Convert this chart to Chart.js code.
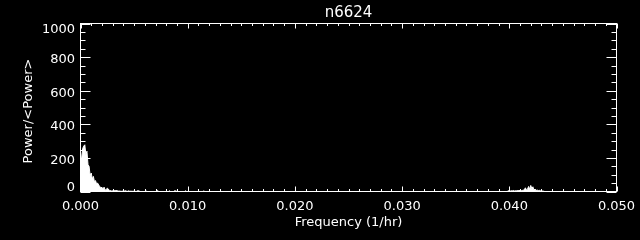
<!DOCTYPE html>
<html>
<head>
<meta charset="utf-8">
<title>n6624</title>
<script src="https://cdn.jsdelivr.net/npm/chart.js@4.4.1/dist/chart.umd.min.js"></script>
<style>
    body { margin: 0; background: #000000; }
    #myChart { display: block; }
</style>
</head>
<body>
<canvas id="myChart" width="640" height="240"></canvas>
<script>
const chartTitle = 'n6624';
const xTitle = 'Frequency (1/hr)';
const yTitle = 'Power/<Power>';

// frequency (1/hr) and normalised power
const freq = [
    0.0000, 0.0001, 0.0002, 0.0003, 0.0004, 0.0005, 0.0006, 0.0007, 0.0008, 0.0009,
    0.0010, 0.0011, 0.0012, 0.0013, 0.0014, 0.0015, 0.0016, 0.0017, 0.0018, 0.0019,
    0.0020, 0.0021, 0.0022, 0.0023, 0.0024, 0.0025, 0.0026, 0.0027, 0.0028, 0.0029,
    0.0030, 0.0031, 0.0032, 0.0033, 0.0034, 0.0035, 0.0036, 0.0037, 0.0038, 0.0039,
    0.0040, 0.0041, 0.0042, 0.0043, 0.0044, 0.0045, 0.0046, 0.0047, 0.0048, 0.0049,
    0.0050, 0.0051, 0.0052, 0.0053, 0.0054, 0.0055, 0.0056, 0.0060, 0.0061, 0.0062,
    0.0071, 0.0072, 0.0073, 0.0082, 0.0083, 0.0084, 0.0087, 0.0088, 0.0089, 0.0090,
    0.0097, 0.0098, 0.0099, 0.0114, 0.0115, 0.0116, 0.0398,
    0.0399, 0.0400, 0.0401, 0.0402, 0.0403, 0.0404, 0.0405, 0.0406, 0.0407, 0.0408,
    0.0409, 0.0410, 0.0411, 0.0412, 0.0413, 0.0414, 0.0415, 0.0416, 0.0417, 0.0418,
    0.0419, 0.0420, 0.0421, 0.0422, 0.0423, 0.0424, 0.0425, 0.0426, 0.0427, 0.0428,
    0.0429, 0.0430, 0.0431, 0.0432, 0.0433, 0.0500
];
const power = [
    235, 180, 255, 270, 278, 220, 240, 160, 150, 95,
    110, 75, 90, 58, 65, 45, 50, 38, 30, 22,
    25, 14, 26, 8, 12, 20, 15, 4, 6, 3,
    4, 3, 6, 5, 6, 2, 3, 2, 1, 2,
    1, 3, 5, 2, 1, 4, 1, 2, 1, 1,
    2, 1, 0, 4, 5, 2, 0, 0, 4, 0,
    0, 6, 0, 0, 4, 0, 0, 5, 3, 0,
    0, 4, 0, 0, 3, 0, 0,
    4, 5, 3, 5, 4, 6, 3, 5, 4, 6,
    5, 7, 4, 6, 8, 10, 22, 9, 14, 30,
    12, 36, 18, 28, 8, 15, 6, 9, 5, 7,
    4, 5, 3, 2, 0, 0
];

const xTicks = [0, 0.01, 0.02, 0.03, 0.04, 0.05];
const xTickLabels = ['0.000', '0.010', '0.020', '0.030', '0.040', '0.050'];
const yTicks = [0, 200, 400, 600, 800, 1000];
const yTickLabels = ['0', '200', '400', '600', '800', '1000'];

const points = freq.map((f, i) => ({ x: f, y: power[i] }));

// IDL style frame: box with inward ticks on all four sides, labels drawn by hand
const idlAxes = {
    id: 'idlAxes',
    beforeDraw(chart) {
        const c = chart.ctx;
        c.save();
        c.fillStyle = '#000000';
        c.fillRect(0, 0, chart.width, chart.height);
        c.restore();
    },
    afterDraw(chart) {
        const c = chart.ctx;
        const a = chart.chartArea;
        const xs = chart.scales.x;
        const ys = chart.scales.y;
        c.save();
        c.strokeStyle = '#ffffff';
        c.fillStyle = '#ffffff';
        c.lineWidth = 1;
        c.strokeRect(a.left, a.top, a.right - a.left, a.bottom - a.top);

        c.beginPath();
        // x minor every 0.001, major every 0.010
        for (let k = 0; k <= 50; k++) {
            const px = Math.round(xs.getPixelForValue(k * 0.001)) + 0.5;
            const len = (k % 10 === 0) ? 5 : 2.5;
            c.moveTo(px, a.bottom); c.lineTo(px, a.bottom - len);
            c.moveTo(px, a.top); c.lineTo(px, a.top + len);
        }
        // y minor every 50, major every 200
        for (let k = 0; k <= 20; k++) {
            const py = Math.round(ys.getPixelForValue(k * 50)) + 0.5;
            const len = (k % 4 === 0) ? 10 : 5;
            c.moveTo(a.left, py); c.lineTo(a.left + len, py);
            c.moveTo(a.right, py); c.lineTo(a.right - len, py);
        }
        c.stroke();

        c.font = '13px "DejaVu Sans"';
        c.textBaseline = 'alphabetic';
        c.textAlign = 'center';
        xTicks.forEach((v, i) => {
            c.fillText(xTickLabels[i], xs.getPixelForValue(v), 210);
        });
        c.textAlign = 'right';
        yTicks.forEach((v, i) => {
            let by = ys.getPixelForValue(v) + 6;
            by = Math.max(by, a.top + 9);
            by = Math.min(by, a.bottom - 0.5);
            c.fillText(yTickLabels[i], 75, by);
        });

        c.textAlign = 'center';
        c.fillText(xTitle, (a.left + a.right) / 2, 226);
        c.font = '15px "DejaVu Sans"';
        c.fillText(chartTitle, (a.left + a.right) / 2, 17);

        c.font = '13px "DejaVu Sans"';
        c.translate(31.5, 111);
        c.rotate(-Math.PI / 2);
        c.fillText(yTitle, 0, 0);
        c.restore();
    }
};

const ctx = document.getElementById('myChart').getContext('2d');
const chartInstance = new Chart(ctx, {
    type: 'line',
    data: {
        datasets: [{
            label: chartTitle,
            data: points,
            borderColor: '#ffffff',
            backgroundColor: '#ffffff',
            borderWidth: 1,
            pointRadius: 0,
            tension: 0,
            fill: 'origin'
        }]
    },
    options: {
        responsive: false,
        animation: false,
        devicePixelRatio: 1,
        layout: {
            padding: { left: 80.5, right: 23.5, top: 23.5, bottom: 48.5 }
        },
        scales: {
            x: { type: 'linear', min: 0, max: 0.05, display: false },
            y: { type: 'linear', min: 0, max: 1000, display: false }
        },
        plugins: {
            legend: { display: false },
            tooltip: { enabled: false }
        }
    },
    plugins: [idlAxes]
});
</script>
</body>
</html>
